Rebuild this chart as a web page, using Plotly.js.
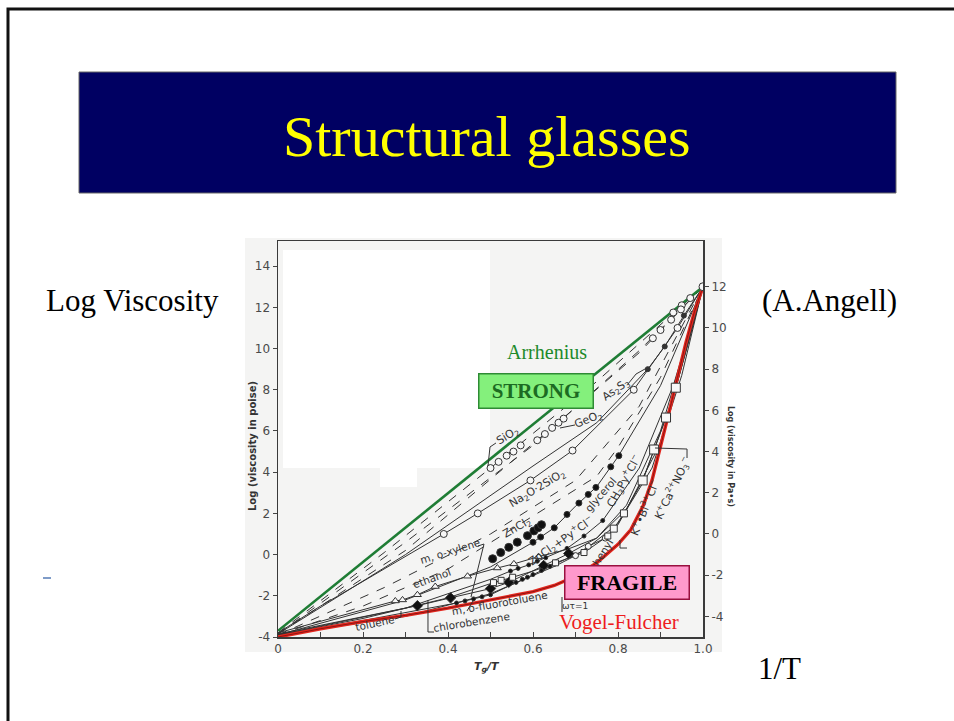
<!DOCTYPE html>
<html>
<head>
<meta charset="utf-8">
<script src="https://cdn.plot.ly/plotly-3.0.1.min.js"></script>
<style>
  html, body { margin: 0; padding: 0; background: #ffffff; }
  #chart { width: 954px; height: 721px; }
</style>
</head>
<body>
<div id="chart"></div>
<script>
// ---- Angell plot: log viscosity vs Tg/T ----------------------------------

// Axis ticks
const xTickVals = [0, 0.2, 0.4, 0.6, 0.8, 1.0];
const xTickText = ['0', '0.2', '0.4', '0.6', '0.8', '1.0'];
const poiseTicks = [-4, -2, 0, 2, 4, 6, 8, 10, 12, 14];
const poiseTickText = ['-4', '-2', '0', '2', '4', '6', '8', '10', '12', '14'];
const pasTicks = [-4, -2, 0, 2, 4, 6, 8, 10, 12];
const pasTickText = ['-4', '-2', '0', '2', '4', '6', '8', '10', '12'];

// Strong limit (Arrhenius) and fragile limit (Vogel-Fulcher)
const arrheniusX = [0, 1];
const arrheniusY = [-3.7, 13];
const vogelX = [0, 0.1, 0.2, 0.3, 0.4, 0.45, 0.5, 0.55, 0.6, 0.65, 0.7, 0.75, 0.8, 0.83, 0.86, 0.88, 0.9, 0.92, 0.94, 0.96, 0.98, 1];
const vogelY = [-4, -3.6, -3.25, -2.95, -2.6, -2.4, -2.2, -2.0, -1.8, -1.5, -1.05, -0.4, 0.5, 1.2, 2.4, 3.6, 5.2, 6.9, 8.6, 10.3, 11.8, 13];

// SiO2
const sio2LineX = [0, 0.25, 0.5, 0.75, 1];
const sio2LineY = [-3.8, 0.1, 4.2, 8.4, 13];
const sio2PtX = [0.5, 0.519, 0.538, 0.554, 0.571, 0.93, 0.95, 0.97];
const sio2PtY = [4.2, 4.5, 4.8, 5.0, 5.3, 11.75, 12.1, 12.45];

// GeO2
const geo2LineX = [0, 0.3, 0.63, 0.85, 1];
const geo2LineY = [-3.85, 0.2, 5.9, 9.8, 13];
const geo2PtX = [0.61, 0.628, 0.645, 0.66, 0.672, 0.882, 0.9, 0.925, 0.948];
const geo2PtY = [5.55, 5.85, 6.15, 6.4, 6.6, 10.5, 10.9, 11.4, 11.9];

// Unlabelled dashed fits
const dashAX = [0, 0.3, 0.6, 0.85, 1];
const dashAY = [-3.85, 0.6, 5.3, 9.9, 13];
const dashBX = [0, 0.25, 0.5, 0.7, 0.85, 1];
const dashBY = [-3.9, -1.6, 1.0, 3.6, 7.2, 13];
const dashCX = [0, 0.2, 0.4, 0.58, 0.75, 0.8, 0.9, 1];
const dashCY = [-3.9, -2.5, -0.7, 1.6, 3.8, 5.2, 8.6, 13];

// Na2O·2SiO2
const na2oLineX = [0, 0.1, 0.2, 0.3, 0.39, 0.47, 0.594, 0.693, 0.837, 0.94, 1];
const na2oLineY = [-3.8, -2.5, -1.3, -0.1, 1.0, 2.0, 3.6, 5.05, 8.0, 11.0, 13];
const na2oPtX = [0.39, 0.47, 0.594, 0.693, 0.837, 0.94];
const na2oPtY = [1.0, 2.0, 3.6, 5.05, 8.0, 11.0];

// As2S3
const as2s3LineX = [0, 0.3, 0.6, 0.75, 0.87, 0.91, 0.955, 1];
const as2s3LineY = [-3.85, 0.0, 4.3, 6.4, 9.0, 10.1, 11.6, 13];
const as2s3PtX = [0.87, 0.91, 0.955];
const as2s3PtY = [9.0, 10.1, 11.6];

// ZnCl2
const zncl2X = [0.505, 0.524, 0.543, 0.563, 0.587, 0.602, 0.612, 0.62];
const zncl2Y = [-0.2, 0.1, 0.35, 0.6, 0.92, 1.15, 1.3, 1.45];

// glycerol
const glycLineX = [0, 0.3, 0.5, 0.6, 0.65, 0.7, 0.75, 0.8, 0.9, 1];
const glycLineY = [-3.9, -2.2, -0.6, 0.6, 1.3, 2.35, 3.3, 4.75, 8.2, 13];
const glycPtX = [0.6, 0.618, 0.65, 0.68, 0.708, 0.73, 0.748, 0.783, 0.802];
const glycPtY = [0.6, 0.85, 1.3, 1.95, 2.5, 2.92, 3.26, 4.26, 4.8];

// ZnCl2 + Py+Cl-
const znpyLineX = [0, 0.3, 0.5, 0.547, 0.59, 0.63, 0.68, 0.72, 0.764, 0.85, 0.93, 1];
const znpyLineY = [-3.9, -2.6, -1.2, -0.8, -0.5, -0.15, 0.3, 0.9, 1.65, 4.2, 8.2, 13];
const znpyPtX = [0.547, 0.565, 0.59, 0.61, 0.63, 0.68, 0.72, 0.764];
const znpyPtY = [-0.8, -0.67, -0.5, -0.32, -0.15, 0.3, 0.9, 1.65];

// CH3Py+Cl-
const ch3pyLineX = [0, 0.3, 0.5, 0.6, 0.653, 0.7, 0.73, 0.77, 0.8, 0.86, 0.93, 1];
const ch3pyLineY = [-3.9, -3.0, -1.9, -1.0, -0.55, -0.05, 0.4, 0.8, 1.45, 3.7, 7.6, 13];
const ch3pyPtX = [0.7, 0.73, 0.77];
const ch3pyPtY = [-0.05, 0.4, 0.8];

// m,o-xylene / ethanol
const xylLineX = [0, 0.276, 0.293, 0.328, 0.37, 0.446, 0.516, 0.555, 0.613, 0.68, 0.75, 0.82, 0.9, 1];
const xylLineY = [-3.8, -2.25, -2.2, -1.95, -1.55, -1.05, -0.65, -0.45, -0.1, 0.25, 0.8, 2.2, 5.4, 13];
const xylPtX = [0.276, 0.293, 0.328, 0.37, 0.446, 0.516, 0.555, 0.613];
const xylPtY = [-2.25, -2.2, -1.95, -1.55, -1.05, -0.65, -0.45, -0.1];

// toluene / chlorobenzene
const chlLineX = [0, 0.2, 0.328, 0.406, 0.5, 0.543, 0.625, 0.684, 0.75, 0.82, 0.9, 1];
const chlLineY = [-3.85, -3.0, -2.48, -2.1, -1.65, -1.35, -0.53, 0.05, 0.8, 2.4, 6.0, 13];
const chlPtX = [0.328, 0.406, 0.5, 0.543, 0.625, 0.684];
const chlPtY = [-2.48, -2.1, -1.65, -1.35, -0.53, 0.05];

// m,o-fluorotoluene
const fluLineX = [0, 0.2, 0.42, 0.5, 0.587, 0.653, 0.72, 0.8, 0.88, 0.95, 1];
const fluLineY = [-3.9, -3.2, -2.35, -1.95, -1.1, -0.45, 0.2, 1.5, 4.2, 8.7, 13];
const fluPtX = [0.42, 0.44, 0.46, 0.48, 0.5, 0.56, 0.575, 0.587, 0.6, 0.62, 0.64, 0.653];
const fluPtY = [-2.35, -2.25, -2.15, -2.05, -1.95, -1.35, -1.2, -1.1, -0.97, -0.77, -0.57, -0.45];

// o-terphenyl, K+Bi3+Cl-, K+Ca2+NO3-
const otpLineX = [0, 0.2, 0.4, 0.507, 0.552, 0.6, 0.653, 0.72, 0.776, 0.79, 0.814, 0.858, 0.885, 0.913, 0.936, 0.97, 1];
const otpLineY = [-3.9, -3.1, -2.1, -1.36, -1.1, -0.8, -0.4, 0.1, 0.9, 1.26, 2.0, 3.6, 5.1, 6.65, 8.1, 10.6, 13];
const otpPtX = [0.507, 0.525, 0.552, 0.653, 0.72, 0.776];
const otpPtY = [-1.36, -1.25, -1.1, -0.4, 0.1, 0.9];
const kbiPtX = [0.79, 0.814];
const kbiPtY = [1.26, 2.0];
const kcaPtX = [0.858, 0.885, 0.913, 0.936];
const kcaPtY = [3.6, 5.1, 6.65, 8.1];

// Common end point at Tg
const tgX = [1];
const tgY = [13];

// ---- drawing helpers -------------------------------------------------------
const INK = '#333333';
const FIG_FONT = 'DejaVu Sans';
const SERIF = 'Liberation Serif';

function line(x, y, dash, width, color) {
  return { type: 'scatter', mode: 'lines', x, y, hoverinfo: 'skip',
           line: { color: color || INK, width: width || 1, dash: dash || 'solid' } };
}
function pts(x, y, symbol, size, fill) {
  return { type: 'scatter', mode: 'markers', x, y, hoverinfo: 'skip',
           marker: { symbol, size, color: fill, line: { color: INK, width: 1 } } };
}

const OPEN = '#f7f7f7';
const traces = [
  line(dashAX, dashAY, 'dash'),
  line(sio2LineX, sio2LineY, 'dash'),
  line(geo2LineX, geo2LineY, 'dash'),
  line(dashBX, dashBY, 'dash'),
  line(dashCX, dashCY, 'dash'),
  line(na2oLineX, na2oLineY),
  line(as2s3LineX, as2s3LineY),
  line(glycLineX, glycLineY),
  line(znpyLineX, znpyLineY),
  line(ch3pyLineX, ch3pyLineY),
  line(xylLineX, xylLineY),
  line(chlLineX, chlLineY),
  line(fluLineX, fluLineY),
  line(otpLineX, otpLineY),
  line(arrheniusX, arrheniusY, 'solid', 2.6, '#1f7d35'),
  line(vogelX, vogelY, 'solid', 3.4, '#e3261d'),
  line(vogelX, vogelY, 'solid', 0.8, '#7a1010'),
  pts(sio2PtX, sio2PtY, 'circle', 7, OPEN),
  pts(geo2PtX, geo2PtY, 'circle', 7, OPEN),
  pts(na2oPtX, na2oPtY, 'circle', 7, OPEN),
  pts(as2s3PtX, as2s3PtY, 'circle', 5, INK),
  pts(zncl2X, zncl2Y, 'circle', 8, '#111111'),
  pts(glycPtX, glycPtY, 'circle', 6, '#111111'),
  pts(znpyPtX, znpyPtY, 'circle', 4, '#111111'),
  pts(ch3pyPtX, ch3pyPtY, 'circle', 6, OPEN),
  pts(xylPtX, xylPtY, 'triangle-up', 7, OPEN),
  pts(chlPtX, chlPtY, 'diamond', 8, '#111111'),
  pts(fluPtX, fluPtY, 'circle', 4, '#111111'),
  pts(otpPtX, otpPtY, 'square', 6, OPEN),
  pts(kbiPtX, kbiPtY, 'square', 7, OPEN),
  pts(kcaPtX, kcaPtY, 'square', 9, OPEN),
  pts(tgX, tgY, 'circle', 8, OPEN),
  { type: 'scatter', mode: 'markers', x: [null], y: [null], yaxis: 'y2', hoverinfo: 'skip' }
];

// Plot area in page pixels; used to place slide furniture in paper units
const L = 278, R = 703, T = 241, B = 637;
const W = 954, H = 721;
function px(x) { return (x - L) / (R - L); }
function py(y) { return (B - y) / (B - T); }
function path(points) {
  return points.map((p, i) => (i ? 'L' : 'M') + px(p[0]).toFixed(4) + ',' + py(p[1]).toFixed(4)).join(' ');
}
function rect(x0, y0, x1, y1, fill, lineColor, lineWidth, layer) {
  return { type: 'rect', xref: 'paper', yref: 'paper', x0: px(x0), x1: px(x1), y0: py(y1), y1: py(y0),
           fillcolor: fill, line: { color: lineColor || fill, width: lineWidth || 0 }, layer: layer || 'below' };
}
function stroke(points, color, width) {
  return { type: 'path', xref: 'paper', yref: 'paper', path: path(points),
           line: { color: color || INK, width: width || 1 }, layer: 'above' };
}
function note(text, cx, cy, size, angle, extra) {
  return Object.assign({ xref: 'paper', yref: 'paper', x: px(cx), y: py(cy),
    xanchor: 'center', yanchor: 'middle', showarrow: false, text,
    textangle: angle || 0,
    font: { family: FIG_FONT, size: size || 11, color: INK } }, extra || {});
}

const shapes = [
  // slide frame
  stroke([[8, H + 5], [8, 9], [W + 5, 9]], '#111111', 3),
  // title banner
  rect(79, 72, 896, 193, '#000062', '#666666', 1, 'below'),
  // scanned figure backdrop
  rect(245, 238, 722, 652, '#f4f4f3', '#f4f4f3', 0, 'below'),
  rect(283, 250, 490, 468, '#ffffff', '#ffffff', 0, 'below'),
  rect(380, 468, 417, 487, '#ffffff', '#ffffff', 0, 'below'),
  // leaders and brackets on the figure
  stroke([[488, 466], [490, 447], [496, 443]]),
  stroke([[560, 428], [575, 425]]),
  stroke([[628, 384], [636, 374], [645, 369]]),
  stroke([[478, 546], [484, 544], [471, 597]]),
  stroke([[395, 619], [401, 617], [401, 611]]),
  stroke([[467, 611], [473, 601]]),
  stroke([[428, 600], [428, 632], [434, 632]]),
  stroke([[655, 448], [687, 449], [687, 458]]),
  stroke([[620, 540], [620, 548], [627, 548]]),
  stroke([[562, 597], [562, 612]]),
  // small dash at the left margin
  stroke([[43, 578], [51, 578]], '#7f9cc8', 2)
];

const annotations = [
  // slide text
  note('Structural glasses', 487, 136, 58, 0, { font: { family: SERIF, size: 58, color: '#ffff00' } }),
  note('Log Viscosity', 132, 300, 31, 0, { font: { family: SERIF, size: 31, color: '#000000' } }),
  note('(A.Angell)', 829, 300, 31, 0, { font: { family: SERIF, size: 31, color: '#000000' } }),
  note('1/T', 779, 668, 31, 0, { font: { family: SERIF, size: 31, color: '#000000' } }),
  // axis titles of the figure
  note('<b>Log (viscosity in poise)</b>', 252, 446, 10, -90),
  note('<b>Log (viscosity in Pa•s)</b>', 731, 456, 8, 90),
  note('<b><i>T<sub>g</sub>/T</i></b>', 487, 667, 11, 0),
  // substance labels
  note('SiO<sub>2</sub>', 508, 436, 11, -31),
  note('GeO<sub>2</sub>', 588, 420, 11, -22),
  note('As<sub>2</sub>S<sub>3</sub>', 616, 390, 11, -35),
  note('Na<sub>2</sub>O·2SiO<sub>2</sub>', 537, 489, 11, -31),
  note('ZnCl<sub>2</sub>', 517, 528, 11, -30),
  note('ZnCl<sub>2</sub>+Py<sup>+</sup>Cl<sup>−</sup>', 561, 541, 11, -35),
  note('glycerol', 600, 495, 10.5, -49),
  note('CH<sub>3</sub>Py<sup>+</sup>Cl<sup>−</sup>', 624, 481, 11, -61),
  note('K<sup>+</sup>•Bi<sup>3+</sup>Cl<sup>−</sup>', 644, 508, 11, -68),
  note('K<sup>+</sup>Ca<sup>2+</sup>NO<sub>3</sub><sup>−</sup>', 673, 488, 11, -64),
  note('m, o-xylene', 450, 551, 10.5, -17),
  note('ethanol', 432, 578, 10.5, -20),
  note('toluene', 375, 623, 10.5, -12),
  note('m, o-fluorotoluene', 499, 603, 10.5, -10),
  note('chlorobenzene', 471, 622, 10.5, -9),
  note('o-terphenyl', 594, 566, 10.5, -58),
  note('ωτ=1', 575, 606, 9, 0),
  // strong / fragile markers
  note('Arrhenius', 547, 352, 20, 0, { font: { family: SERIF, size: 20, color: '#1d8a2a' } }),
  note('Vogel-Fulcher', 619, 622, 21, 0, { font: { family: SERIF, size: 21, color: '#ee1c1c' } }),
  note('<b>STRONG</b>', 536, 391, 21, 0, {
    font: { family: SERIF, size: 21, color: '#1c6b22' },
    bgcolor: '#84f07c', bordercolor: '#2e8b34', borderwidth: 1.5, borderpad: 0,
    width: 113, height: 33 }),
  note('<b>FRAGILE</b>', 627, 582, 22, 0, {
    font: { family: SERIF, size: 22, color: '#000000' },
    bgcolor: '#ff99cc', bordercolor: '#99103f', borderwidth: 1.5, borderpad: 0,
    width: 123, height: 32 })
];

const tickFont = { family: FIG_FONT, size: 12, color: '#4a4a4a' };

const layout = {
  width: W, height: H,
  margin: { l: L, r: W - R, t: T, b: H - B, pad: 0 },
  paper_bgcolor: '#ffffff',
  plot_bgcolor: 'rgba(0,0,0,0)',
  showlegend: false,
  xaxis: {
    range: [0, 1], tickmode: 'array', tickvals: xTickVals, ticktext: xTickText,
    ticks: 'inside', ticklen: 5, tickwidth: 1, tickcolor: '#444',
    minor: { dtick: 0.1, tick0: 0, ticks: 'inside', ticklen: 5, tickwidth: 1, tickcolor: '#444', showgrid: false },
    showline: true, linecolor: '#3a3a3a', linewidth: 1.5, mirror: true,
    showgrid: false, zeroline: false, tickfont: tickFont, fixedrange: true
  },
  yaxis: {
    range: [-4, 15.22], tickmode: 'array', tickvals: poiseTicks, ticktext: poiseTickText,
    ticks: 'outside', ticklen: 4, tickwidth: 1, tickcolor: '#444',
    showline: true, linecolor: '#3a3a3a', linewidth: 1.5, mirror: true,
    showgrid: false, zeroline: false, tickfont: tickFont, fixedrange: true
  },
  yaxis2: {
    overlaying: 'y', side: 'right', anchor: 'x',
    range: [-5, 14.22], tickmode: 'array', tickvals: pasTicks, ticktext: pasTickText,
    ticks: 'outside', ticklen: 5, tickwidth: 1, tickcolor: '#444',
    showline: false, showgrid: false, zeroline: false, tickfont: tickFont, fixedrange: true
  },
  shapes, annotations
};

Plotly.newPlot('chart', traces, layout, { staticPlot: true, displayModeBar: false });
</script>
</body>
</html>
